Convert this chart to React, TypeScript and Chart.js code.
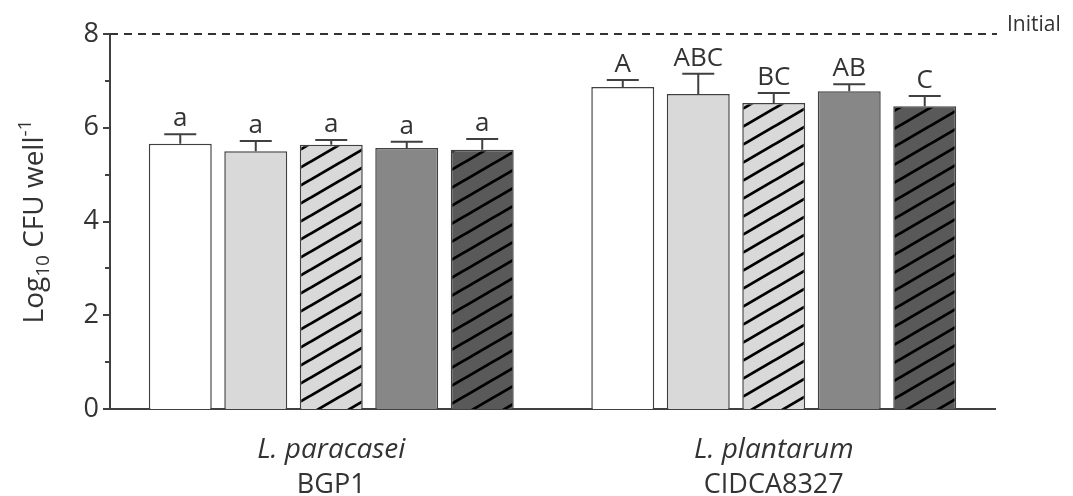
import React, { useEffect, useRef } from "react";
import { Chart, registerables } from "chart.js";

Chart.register(...registerables);

// ---- data ----
const strainNames = ["L. paracasei", "L. plantarum"];
const strainCodes = ["BGP1", "CIDCA8327"];
const treatmentNames = ["Treatment 1", "Treatment 2", "Treatment 3", "Treatment 4", "Treatment 5"];
const t1Values = [5.66, 6.87];
const t2Values = [5.5, 6.72];
const t3Values = [5.64, 6.53];
const t4Values = [5.57, 6.78];
const t5Values = [5.53, 6.46];
const t1Errors = [0.2, 0.15];
const t2Errors = [0.22, 0.43];
const t3Errors = [0.1, 0.21];
const t4Errors = [0.13, 0.15];
const t5Errors = [0.23, 0.22];
const t1Letters = ["a", "A"];
const t2Letters = ["a", "ABC"];
const t3Letters = ["a", "BC"];
const t4Letters = ["a", "AB"];
const t5Letters = ["a", "C"];
const initialLevel = 8;
const initialLabel = "Initial";
const yTicks = [0, 2, 4, 6, 8];
const yMin = 0;
const yMax = 8;

const FONT = "'Open Sans', sans-serif";
const AXIS = "#404040";

function makeHatch(bg: string): CanvasPattern | string {
  const c = document.createElement("canvas");
  const w = 31;
  const h = 18;
  c.width = w;
  c.height = h;
  const ctx = c.getContext("2d");
  if (!ctx) return bg;
  ctx.fillStyle = bg;
  ctx.fillRect(0, 0, w, h);
  ctx.strokeStyle = "#000";
  ctx.lineWidth = 2.8;
  for (const dy of [-h, 0, h]) {
    ctx.beginPath();
    ctx.moveTo(-1, h + dy + (h / w));
    ctx.lineTo(w + 1, dy - (h / w));
    ctx.stroke();
  }
  const p = ctx.createPattern(c, "repeat");
  return p || bg;
}

export default function App() {
  const ref = useRef<HTMLCanvasElement | null>(null);

  useEffect(() => {
    if (!ref.current) return;
    const values = [t1Values, t2Values, t3Values, t4Values, t5Values];
    const errors = [t1Errors, t2Errors, t3Errors, t4Errors, t5Errors];
    const letters = [t1Letters, t2Letters, t3Letters, t4Letters, t5Letters];
    const fills: (string | CanvasPattern)[] = [
      "#ffffff",
      "#d9d9d9",
      makeHatch("#d9d9d9"),
      "#878787",
      makeHatch("#595959"),
    ];

    const decor = {
      id: "decor",
      afterDatasetsDraw(chart: any) {
        const ctx = chart.ctx as CanvasRenderingContext2D;
        const y = chart.scales.y;
        ctx.save();
        values.forEach((vals, i) => {
          const meta = chart.getDatasetMeta(i);
          meta.data.forEach((bar: any, j: number) => {
            const top = y.getPixelForValue(vals[j] + errors[i][j]);
            ctx.strokeStyle = AXIS;
            ctx.lineWidth = 2;
            ctx.beginPath();
            ctx.moveTo(bar.x, bar.y);
            ctx.lineTo(bar.x, top);
            ctx.moveTo(bar.x - 16, top);
            ctx.lineTo(bar.x + 16, top);
            ctx.stroke();
            ctx.fillStyle = "#333";
            ctx.font = `26px ${FONT}`;
            ctx.textAlign = "center";
            ctx.textBaseline = "alphabetic";
            ctx.fillText(letters[i][j], bar.x, top - 8);
          });
        });
        ctx.restore();
      },
      afterDraw(chart: any) {
        const ctx = chart.ctx as CanvasRenderingContext2D;
        const area = chart.chartArea;
        const y = chart.scales.y;
        const x = chart.scales.x;
        ctx.save();
        // y tick marks (major + minor)
        ctx.strokeStyle = AXIS;
        ctx.lineWidth = 2;
        for (let v = yMin; v <= yMax; v++) {
          const py = Math.round(y.getPixelForValue(v));
          const len = yTicks.includes(v) ? 7 : 5;
          ctx.beginPath();
          ctx.moveTo(area.left - len, py);
          ctx.lineTo(area.left, py);
          ctx.stroke();
        }
        // initial dashed line
        const iy = y.getPixelForValue(initialLevel);
        ctx.strokeStyle = "#333";
        ctx.lineWidth = 2;
        ctx.setLineDash([8, 6]);
        ctx.beginPath();
        ctx.moveTo(area.left, iy);
        ctx.lineTo(area.right + 2, iy);
        ctx.stroke();
        ctx.setLineDash([]);
        ctx.fillStyle = "#333";
        ctx.font = `21px ${FONT}`;
        ctx.textAlign = "left";
        ctx.textBaseline = "alphabetic";
        ctx.fillText(initialLabel, area.right + 12, iy - 3);
        // x labels
        ctx.textAlign = "center";
        strainNames.forEach((name, i) => {
          const px = x.getPixelForValue(i);
          ctx.font = `italic 28px ${FONT}`;
          ctx.fillText(name, px, area.bottom + 49);
          ctx.font = `27px ${FONT}`;
          ctx.fillText(strainCodes[i], px, area.bottom + 84);
        });
        // y title with sub/superscript
        const parts = [
          { t: "Log", size: 28, dy: 0 },
          { t: "10", size: 19, dy: 6 },
          { t: " CFU well", size: 28, dy: 0 },
          { t: "-1", size: 19, dy: -12 },
        ];
        let total = 0;
        parts.forEach((p) => {
          ctx.font = `${p.size}px ${FONT}`;
          total += ctx.measureText(p.t).width;
        });
        ctx.translate(43, (area.top + area.bottom) / 2);
        ctx.rotate(-Math.PI / 2);
        ctx.textAlign = "left";
        let cx = -total / 2;
        parts.forEach((p) => {
          ctx.font = `${p.size}px ${FONT}`;
          ctx.fillText(p.t, cx, p.dy);
          cx += ctx.measureText(p.t).width;
        });
        ctx.restore();
      },
    };

    const chart = new Chart(ref.current, {
      type: "bar",
      data: {
        labels: strainNames,
        datasets: values.map((vals, i) => ({
          label: treatmentNames[i],
          data: vals,
          backgroundColor: fills[i] as any,
          borderColor: AXIS,
          borderWidth: 1.5,
          categoryPercentage: 0.853,
          barPercentage: 0.834,
        })),
      },
      options: {
        animation: false,
        responsive: true,
        maintainAspectRatio: false,
        layout: { padding: { left: 0, top: 34, right: 78, bottom: 0 } },
        plugins: { legend: { display: false }, tooltip: { enabled: false } },
        scales: {
          x: {
            grid: { display: false },
            border: { display: true, color: AXIS, width: 2 },
            ticks: { display: false },
            afterFit(scale: any) {
              scale.height = 87;
            },
          },
          y: {
            min: yMin,
            max: yMax,
            grid: { display: false, drawTicks: false },
            border: { display: true, color: AXIS, width: 2 },
            ticks: {
              stepSize: 2,
              padding: 11,
              color: "#333",
              font: { family: FONT, size: 27 },
            },
            afterFit(scale: any) {
              scale.width = 110;
            },
          },
        },
      },
      plugins: [decor],
    });
    return () => chart.destroy();
  }, []);

  return (
    <div style={{ position: "fixed", left: 0, top: 0, width: 1073, height: 496, background: "#fff" }}>
      <canvas ref={ref} style={{ display: "block" }} />
    </div>
  );
}
